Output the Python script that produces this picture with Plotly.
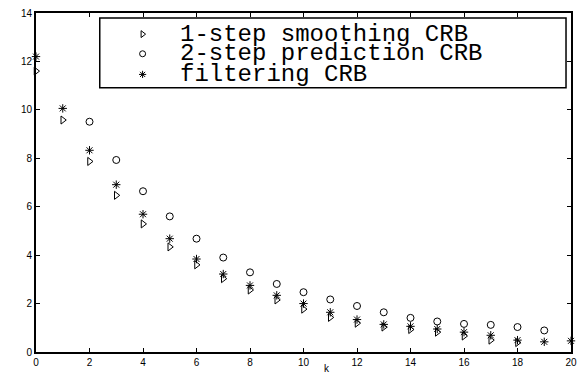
import plotly.graph_objects as go

smoothing_k = list(range(19))
smoothing = [11.6, 9.58, 7.87, 6.47, 5.29, 4.34, 3.6, 3.03, 2.56, 2.15, 1.77,
             1.43, 1.19, 1.03, 0.93, 0.82, 0.66, 0.49, 0.39]

prediction_k = list(range(2, 20))
prediction = [9.51, 7.93, 6.64, 5.6, 4.68, 3.9, 3.29, 2.81, 2.47, 2.17, 1.9,
              1.64, 1.41, 1.26, 1.16, 1.12, 1.03, 0.89]

filtering_k = list(range(21))
filtering = [12.2, 10.06, 8.33, 6.91, 5.69, 4.68, 3.84, 3.22, 2.75, 2.34, 2.0,
             1.64, 1.34, 1.14, 1.06, 0.95, 0.82, 0.69, 0.49, 0.42, 0.46]

legend_labels = ["1-step smoothing CRB", "2-step prediction CRB", "filtering CRB"]
symbols = ["triangle-right-open", "circle-open", "asterisk-open"]

x_ticks = list(range(0, 21, 2))
y_ticks = list(range(0, 15, 2))

W, H = 584, 375
L, R, T, B = 36, 11, 7, 23
pw, ph = W - L - R, H - T - B


def px(xp):
    return (xp - L) / pw


def py(yp):
    return (H - B - yp) / ph


fig = go.Figure()
series = [(smoothing_k, smoothing), (prediction_k, prediction), (filtering_k, filtering)]
for (xs, ys), sym, lab in zip(series, symbols, legend_labels):
    fig.add_trace(go.Scatter(
        x=xs, y=ys, mode="markers", name=lab, showlegend=False, cliponaxis=False,
        marker=dict(symbol=sym, size=7, color="black", line=dict(color="black", width=1)),
    ))

# legend box (white fill, drawn beneath the legend keys)
fig.add_shape(type="rect", xref="paper", yref="paper",
              x0=px(100), x1=px(568), y0=py(83), y1=py(12),
              line=dict(color="black", width=1.5), fillcolor="white", layer="below")

legend_rows = [28.5, 48.5, 69.5]
for lab, sym, yr in zip(legend_labels, symbols, legend_rows):
    fig.add_trace(go.Scatter(
        x=[143], y=[yr], xaxis="x2", yaxis="y2", mode="markers", showlegend=False,
        cliponaxis=False, hoverinfo="skip",
        marker=dict(symbol=sym, size=6, color="black", line=dict(color="black", width=1)),
    ))
    fig.add_annotation(text=lab, xref="paper", yref="paper", x=px(179), y=py(yr),
                       xanchor="left", yanchor="middle", showarrow=False,
                       font=dict(family="Liberation Mono", size=24, color="black"))

fig.add_annotation(text="k", xref="paper", yref="paper", x=px(328), y=py(369),
                   xanchor="center", yanchor="middle", showarrow=False,
                   font=dict(family="Liberation Sans", size=10, color="black"))

axis_common = dict(showgrid=False, zeroline=False, showline=True, linecolor="black",
                   linewidth=2, mirror="ticks", ticks="inside", ticklen=4, tickwidth=1,
                   tickcolor="black",
                   tickfont=dict(family="Liberation Sans", size=10, color="black"))

fig.update_layout(
    width=W, height=H,
    margin=dict(l=L, r=R, t=T, b=B, pad=0),
    paper_bgcolor="white", plot_bgcolor="white",
    xaxis=dict(range=[0, 20], tickvals=x_ticks, **axis_common),
    yaxis=dict(range=[0, 14], tickvals=y_ticks, **axis_common),
    xaxis2=dict(overlaying="x", range=[L, W - R], visible=False),
    yaxis2=dict(overlaying="y", range=[H - B, T], visible=False),
)

fig.write_html("out.html")
